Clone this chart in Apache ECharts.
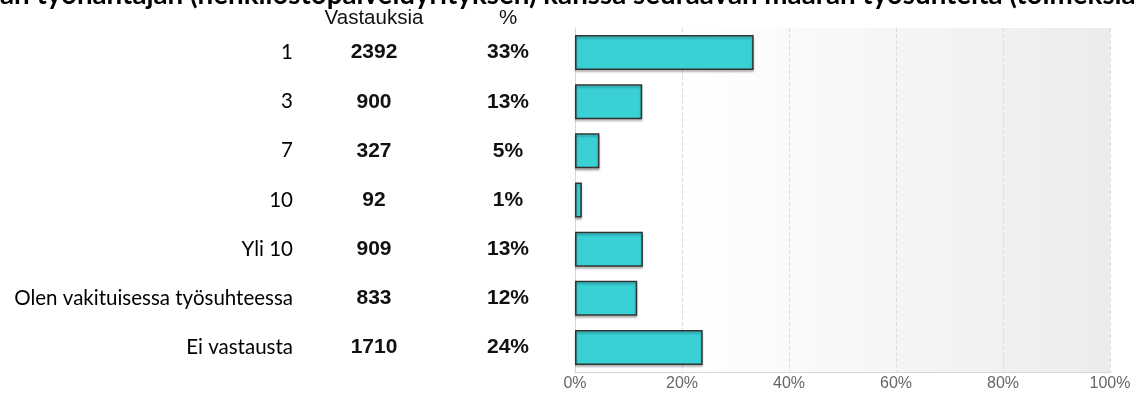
<!DOCTYPE html>
<html>
<head>
<meta charset="utf-8">
<script src="https://cdn.jsdelivr.net/npm/echarts@6/dist/echarts.min.js"></script>
<style>
  html, body { margin: 0; padding: 0; background: #fff; }
  #chart { width: 1136px; height: 393px; }
</style>
</head>
<body>
<div id="chart"></div>
<script>
// Survey answers: number of employment relationships with the same agency employer
const categories = ['1', '3', '7', '10', 'Yli 10', 'Olen vakituisessa työsuhteessa', 'Ei vastausta'];
const counts = [2392, 900, 327, 92, 909, 833, 1710];
const xTicks = [0, 20, 40, 60, 80, 100];
const titleText = 'Olen ollut saman työnantajan (henkilöstöpalveluyrityksen) kanssa seuraavan määrän työsuhteita (toimeksiantoja)';
const columnHeaders = ['Vastauksia', '%'];

// share of all answers, in percent; the % column is this value rounded
const total = counts.reduce((a, b) => a + b, 0);
const shares = counts.map(c => c / total * 100);
const shareLabels = shares.map(s => Math.round(s) + '%');

const GRID_LEFT = 575, GRID_RIGHT = 26, GRID_TOP = 28, GRID_BOTTOM = 21;
const COUNT_X = 374, PCT_X = 508, LABEL_RIGHT = 293;

// the long title is wider than the canvas; place it so its middle shows
const titleFont = 'Lato';
const ctx = document.createElement('canvas').getContext('2d');
ctx.font = 'bold 24px ' + titleFont;
const hiddenPrefix = 'Olen ollut sam';
const visiblePart = 'an työnantajan (henkilöstöpalveluyrityksen) kanssa seuraavan määrän työsuhteita (toimeksia';
const titleSize = 24 * 1136 / ctx.measureText(visiblePart).width;
ctx.font = 'bold ' + titleSize + 'px ' + titleFont;
const titleX = -ctx.measureText(hiddenPrefix).width;

const chart = echarts.init(document.getElementById('chart'));

const hiddenAxisParts = {
  axisLine: { show: false },
  axisTick: { show: false },
  splitLine: { show: false }
};

chart.setOption({
  animation: false,
  grid: {
    left: GRID_LEFT, right: GRID_RIGHT, top: GRID_TOP, bottom: GRID_BOTTOM,
    outerBoundsMode: 'none',
    containLabel: false,
    show: true,
    borderWidth: 0,
    backgroundColor: new echarts.graphic.LinearGradient(0, 0, 1, 0, [
      { offset: 0, color: '#ffffff' },
      { offset: 0.2, color: '#ffffff' },
      { offset: 1, color: '#ececec' }
    ])
  },
  graphic: [
    {
      type: 'text', x: titleX, y: 9, z: 10,
      style: {
        text: titleText,
        font: 'bold ' + titleSize + 'px ' + titleFont,
        fill: '#000',
        align: 'left',
        verticalAlign: 'bottom'
      }
    },
    {
      type: 'text', x: COUNT_X, y: 18,
      style: {
        text: columnHeaders[0], font: '20.5px Arial, "Liberation Sans"',
        fill: '#111', align: 'center', verticalAlign: 'middle'
      }
    },
    {
      type: 'text', x: PCT_X, y: 18,
      style: {
        text: columnHeaders[1], font: '20.5px Arial, "Liberation Sans"',
        fill: '#111', align: 'center', verticalAlign: 'middle'
      }
    }
  ],
  xAxis: {
    type: 'value',
    min: xTicks[0],
    max: xTicks[xTicks.length - 1],
    interval: xTicks[1] - xTicks[0],
    axisLine: { show: true, lineStyle: { color: '#d6d6d6', width: 1 } },
    axisTick: { show: false },
    axisLabel: {
      formatter: '{value}%', color: '#666', fontSize: 16,
      fontFamily: 'Arial, "Liberation Sans"', margin: 4
    },
    splitLine: { show: true, lineStyle: { color: '#dcdcdc', type: 'dashed', width: 1 } }
  },
  yAxis: [
    {
      type: 'category', data: categories, inverse: true, position: 'left', offset: 0,
      axisLine: { show: true, lineStyle: { color: '#d6d6d6', width: 1 } },
      axisTick: { show: false },
      splitLine: { show: false },
      axisLabel: {
        margin: GRID_LEFT - LABEL_RIGHT, align: 'right',
        fontFamily: 'Lato, sans-serif',
        fontSize: 20.5, color: '#000'
      }
    },
    Object.assign({
      type: 'category', data: counts.map(String), inverse: true, position: 'left', offset: 0,
      axisLabel: {
        margin: GRID_LEFT - COUNT_X, align: 'center',
        fontFamily: 'Arial, "Liberation Sans"', fontWeight: 'bold',
        fontSize: 21, color: '#111'
      }
    }, hiddenAxisParts),
    Object.assign({
      type: 'category', data: shareLabels, inverse: true, position: 'left', offset: 0,
      axisLabel: {
        margin: GRID_LEFT - PCT_X, align: 'center',
        fontFamily: 'Arial, "Liberation Sans"', fontWeight: 'bold',
        fontSize: 21, color: '#111'
      }
    }, hiddenAxisParts)
  ],
  series: [{
    type: 'bar',
    yAxisIndex: 0,
    data: shares,
    barWidth: 35,
    itemStyle: {
      color: '#39d0d6',
      borderColor: '#333',
      borderWidth: 1.5,
      shadowColor: 'rgba(0,0,0,0.25)',
      shadowBlur: 2,
      shadowOffsetY: 2
    }
  }]
});
</script>
</body>
</html>
